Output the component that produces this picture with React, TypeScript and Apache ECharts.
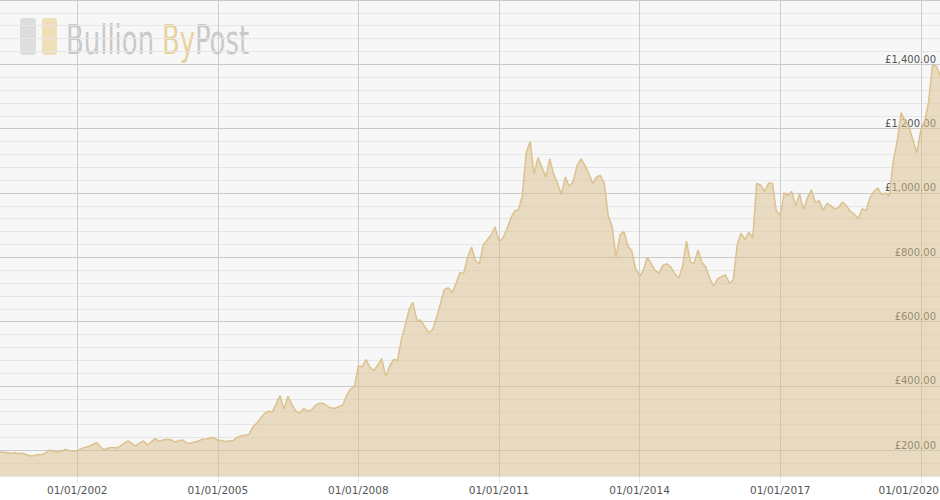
import React, { useEffect, useRef } from 'react';
import * as echarts from 'echarts';

// monthly gold price (GBP), first value is May 2000
const startYear = 2000;
const startMonth = 4;
const prices = [
  195, 194, 193, 190, 192, 190, 191, 186, 182, 184, 186, 187,
  192, 201, 196, 195, 197, 203, 199, 197, 198, 205, 209, 212,
  218, 224, 210, 202, 207, 209, 207, 212, 222, 229, 222, 213,
  222, 229, 216, 226, 236, 228, 232, 234, 233, 225, 230, 232,
  223, 222, 225, 229, 234, 235, 238, 240, 231, 230, 227, 229,
  230, 240, 245, 247, 250, 272, 285, 300, 315, 322, 318, 345,
  370, 327, 368, 343, 322, 316, 330, 322, 325, 340, 346, 346,
  338, 332, 330, 336, 340, 370, 390, 398, 462, 460, 482, 458,
  448, 465, 485, 430, 462, 482, 480, 545, 590, 640, 660, 604,
  604, 585, 565, 575, 612, 655, 700, 705, 690, 720, 752, 750,
  800, 832, 790, 780, 840, 854, 870, 895, 850, 860, 885, 920,
  943, 948, 990, 1125, 1160, 1060, 1110, 1080, 1050, 1106, 1060, 1030,
  995, 1050, 1020, 1036, 1085, 1107, 1085, 1060, 1030, 1050, 1055, 1030,
  930, 895, 800, 870, 880, 835, 820, 765, 740, 762, 800, 780,
  760, 750, 775, 780, 770, 750, 735, 771, 850, 785, 781, 823,
  785, 770, 735, 710, 733, 740, 745, 720, 730, 840, 875, 855,
  878, 860, 1030, 1025, 1005, 1030, 1030, 945, 930, 1000, 992, 1005,
  960, 998, 948, 985, 1010, 970, 976, 945, 968, 960, 950, 955,
  972, 960, 943, 934, 920, 950, 945, 985, 1005, 1015, 995, 1000,
  990, 1100, 1160, 1250, 1224, 1205, 1165, 1125, 1195, 1225, 1280, 1396,
  1395, 1365,
];
const tickYears = [2002, 2005, 2008, 2011, 2014, 2017, 2020];

const tickValues = tickYears.map((y) => Date.UTC(y, 0, 1));
const seriesData = prices.map((v, i) => [Date.UTC(startYear, startMonth + i, 1), v]);
const lastTickYear = tickYears[tickYears.length - 1];

const formatGbp = (v: number) =>
  '£' + v.toLocaleString('en-GB', { minimumFractionDigits: 2, maximumFractionDigits: 2 });

const logoFont = '"Liberation Sans Narrow", "DejaVu Sans Condensed", sans-serif';

document.documentElement.style.overflow = 'hidden';
document.body.style.margin = '0';
document.body.style.overflow = 'hidden';

const App: React.FC = () => {
  const chartRef = useRef<HTMLDivElement>(null);

  useEffect(() => {
    if (!chartRef.current) return;
    const chart = echarts.init(chartRef.current, null, { renderer: 'svg' });

    const option: echarts.EChartsOption = {
      animation: false,
      backgroundColor: '#ffffff',
      grid: {
        left: 0,
        right: 0,
        top: 0,
        bottom: 24,
        show: true,
        backgroundColor: '#f7f7f7',
        borderWidth: 0,
        outerBoundsMode: 'none',
      } as any,
      xAxis: {
        type: 'value',
        min: Date.UTC(2000, 4, 9),
        max: Date.UTC(2020, 4, 30),
        axisLine: { show: false },
        axisTick: {
          show: true,
          customValues: tickValues,
          length: 8,
          lineStyle: { color: '#d0d0d0', type: 'dotted' },
        },
        axisLabel: {
          customValues: tickValues,
          formatter: (v: number) => {
            const year = new Date(v).getUTCFullYear();
            // last label is pushed left so it stays inside the chart
            return year === lastTickYear ? '{last|01/01/' + year + '}' : '01/01/' + year;
          },
          rich: {
            last: {
              padding: [0, 24, 0, 0],
              color: '#555',
              fontSize: 10.5,
              fontFamily: 'DejaVu Sans',
            },
          },
          color: '#555',
          fontSize: 10.5,
          fontFamily: 'DejaVu Sans',
          margin: 8,
        },
        splitLine: { show: true, lineStyle: { color: '#cdcdcd', width: 1 } },
      },
      yAxis: {
        type: 'value',
        position: 'right',
        min: 120,
        max: 1600,
        interval: 40,
        axisLine: { show: false },
        axisTick: { show: false },
        axisLabel: {
          inside: true,
          margin: 4,
          verticalAlign: 'bottom',
          color: '#555',
          fontSize: 10,
          fontFamily: 'DejaVu Sans',
          formatter: (v: number) => (v % 200 === 0 && v < 1600 ? formatGbp(v) : ''),
        },
        splitLine: {
          show: true,
          lineStyle: {
            color: ['#e6e6e6', '#e6e6e6', '#cacaca', '#e6e6e6', '#e6e6e6'],
            width: 1,
          },
        },
      },
      series: [
        {
          type: 'line',
          data: seriesData,
          showSymbol: false,
          lineStyle: { color: '#dcc28e', width: 1.5 },
          areaStyle: { color: '#d9bf8c', opacity: 0.5 },
        },
      ],
      graphic: [
        {
          type: 'rect',
          shape: { x: 20, y: 18, width: 16, height: 37, r: 3 },
          style: { fill: '#dddddd' },
        },
        {
          type: 'rect',
          shape: { x: 42, y: 18, width: 15, height: 37, r: 3 },
          style: { fill: '#efdfb8' },
        },
        {
          type: 'text',
          x: 66,
          y: 40,
          scaleX: 0.72,
          style: { text: 'Bullion', font: '40px ' + logoFont, fill: '#c9c9c9', verticalAlign: 'middle' },
        },
        {
          type: 'text',
          x: 162,
          y: 40,
          scaleX: 0.72,
          style: { text: 'By', font: '40px ' + logoFont, fill: '#e8d29c', verticalAlign: 'middle' },
        },
        {
          type: 'text',
          x: 195,
          y: 40,
          scaleX: 0.72,
          style: { text: 'Post', font: '40px ' + logoFont, fill: '#c9c9c9', verticalAlign: 'middle' },
        },
      ],
    };

    chart.setOption(option);

    return () => {
      chart.dispose();
    };
  }, []);

  return <div ref={chartRef} style={{ width: '100%', height: '500px' }} />;
};

export default App;
